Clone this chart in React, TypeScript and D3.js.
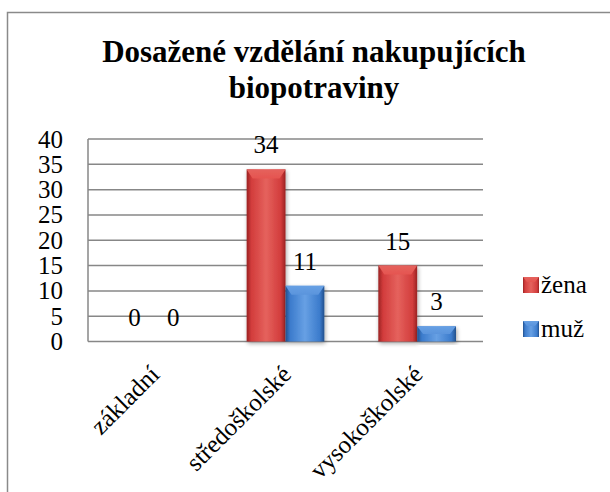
import React from "react";
import * as d3 from "d3";

const categories = ["základní", "středoškolské", "vysokoškolské"];
const seriesNames = ["žena", "muž"];
const zenaValues = [0, 34, 15];
const muzValues = [0, 11, 3];
const yTicks = [0, 5, 10, 15, 20, 25, 30, 35, 40];
const titleLines = ["Dosažené vzdělání nakupujících", "biopotraviny"];

const W = 610;
const H = 492;
const plot = { left: 88, right: 483, top: 139, bottom: 341.5 };
const colors = [
  { dark: "#9a2222", mid: "#d23c3c", light: "#e5625d", bevel: "#e55550" },
  { dark: "#22508c", mid: "#3b7bcc", light: "#67a0e4", bevel: "#5a94dc" },
];

export default function App() {
  const y = d3.scaleLinear().domain([0, 40]).range([plot.bottom, plot.top]);
  const x0 = d3.scaleBand<string>().domain(categories).range([plot.left, plot.right]).padding(0);
  const bw = x0.bandwidth();
  const groupW = bw * 0.59;
  const x1 = d3
    .scaleBand<string>()
    .domain(seriesNames)
    .range([(bw - groupW) / 2, (bw + groupW) / 2])
    .padding(0);
  const series = [zenaValues, muzValues];

  return (
    <div style={{ fontFamily: "Liberation Serif" }}>
      <svg width={W} height={H} fontFamily="Liberation Serif" style={{ position: "absolute", left: 0, top: 0 }}>
        <style>{`text { font-family: "Liberation Serif", serif; fill: #000; }`}</style>
        <defs>
          {colors.map((c, i) => (
            <linearGradient key={i} id={`g${i}`} x1="0" x2="1" y1="0" y2="0">
              <stop offset="0" stopColor={c.dark} />
              <stop offset="0.12" stopColor={c.mid} />
              <stop offset="0.5" stopColor={c.light} />
              <stop offset="0.88" stopColor={c.mid} />
              <stop offset="1" stopColor={c.dark} />
            </linearGradient>
          ))}
          {colors.map((c, i) => (
            <linearGradient key={"b" + i} id={`bv${i}`} x1="0" x2="0" y1="0" y2="1">
              <stop offset="0" stopColor={c.light} />
              <stop offset="1" stopColor={c.bevel} />
            </linearGradient>
          ))}
          <filter id="shadow" x="-20%" y="-20%" width="140%" height="140%">
            <feGaussianBlur in="SourceAlpha" stdDeviation="2" />
            <feOffset dx="1" dy="2" result="b" />
            <feComponentTransfer>
              <feFuncA type="linear" slope="0.35" />
            </feComponentTransfer>
            <feMerge>
              <feMergeNode />
              <feMergeNode in="SourceGraphic" />
            </feMerge>
          </filter>
        </defs>
        <rect x={0} y={0} width={W} height={H} fill="#fff" />
        <rect x={7.5} y={12.5} width={W + 50} height={H + 50} fill="#fff" stroke="#8a8a8a" strokeWidth={1.5} />

        {titleLines.map((t, i) => (
          <text key={t} x={314} y={62 + i * 36} textAnchor="middle" fontFamily="Liberation Serif" fontSize={31} fontWeight="bold">
            {t}
          </text>
        ))}

        {yTicks.map((t) => (
          <g key={t}>
            <line x1={plot.left} x2={plot.right} y1={y(t)} y2={y(t)} stroke="#878787" strokeWidth={1.5} />
            <text x={63} y={y(t) + 8.5} textAnchor="end" fontFamily="Liberation Serif" fontSize={25}>
              {t}
            </text>
          </g>
        ))}
        <line x1={plot.left} x2={plot.left} y1={plot.top} y2={plot.bottom} stroke="#878787" strokeWidth={1.5} />

        {categories.map((cat, ci) =>
          series.map((vals, si) => {
            const v = vals[ci];
            const bx = (x0(cat) as number) + (x1(seriesNames[si]) as number);
            const w = x1.bandwidth();
            const top = y(v);
            const h = plot.bottom - top;
            const bev = Math.min(9, h / 2);
            return (
              <g key={cat + si}>
                {h > 0 && (
                  <g filter="url(#shadow)">
                    <rect x={bx} y={top} width={w} height={h} fill={`url(#g${si})`} />
                    <polygon
                      points={`${bx},${top} ${bx + w},${top} ${bx + w - 6},${top + bev} ${bx + 6},${top + bev}`}
                      fill={`url(#bv${si})`}
                    />
                  </g>
                )}
                <text x={bx + w / 2} y={top - 16} textAnchor="middle" fontFamily="Liberation Serif" fontSize={25}>
                  {v}
                </text>
              </g>
            );
          })
        )}

        {categories.map((cat) => {
          const cx = (x0(cat) as number) + bw / 2 + 7;
          return (
            <text
              key={cat}
              transform={`translate(${cx},${376}) rotate(-45)`}
              textAnchor="end"
              fontFamily="Liberation Serif"
              fontSize={25}
            >
              {cat}
            </text>
          );
        })}

        {seriesNames.map((s, i) => {
          const ly = 285 + i * 44;
          return (
            <g key={s}>
              <rect x={523} y={ly - 8} width={16} height={16} fill={`url(#g${i})`} />
              <polygon points={`523,${ly - 8} 539,${ly - 8} 535,${ly - 3} 527,${ly - 3}`} fill={`url(#bv${i})`} />
              <text x={541} y={ly + 8} fontFamily="Liberation Serif" fontSize={25}>
                {s}
              </text>
            </g>
          );
        })}
      </svg>
    </div>
  );
}
